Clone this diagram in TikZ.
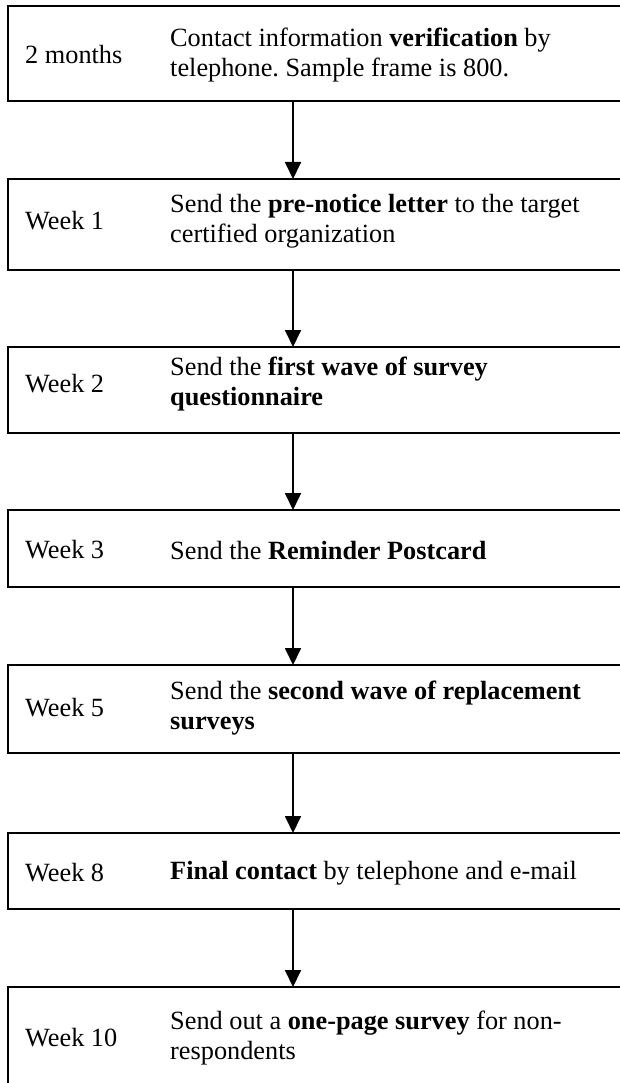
\documentclass[tikz,border=0pt]{standalone}
\usepackage{fontspec}
\setmainfont{Liberation Serif}
\usetikzlibrary{arrows.meta}
\frenchspacing

\begin{document}
\begin{tikzpicture}[x=1pt,y=-1pt,
  stepbox/.style={draw=black,line width=1.8pt,rectangle,anchor=north west,
    minimum width=640pt,inner sep=0pt,outer sep=0pt},
  when/.style={anchor=west,inner sep=0pt,font=\fontsize{26.3}{30}\selectfont},
  what/.style={anchor=west,inner sep=0pt,align=left,font=\fontsize{26.3}{30}\selectfont},
  arr/.style={line width=1.8pt,-{Triangle[length=17pt,width=16pt]}}]
\useasboundingbox (0,0) rectangle (620,1083);

% shared x of the connectors
\coordinate (ax) at (293,0);

% boxes: top-left corner and height
\node[stepbox,minimum height=95pt] (b1) at (8,6) {};
\node[stepbox,minimum height=91pt] (b2) at (8,179) {};
\node[stepbox,minimum height=86pt] (b3) at (8,347) {};
\node[stepbox,minimum height=77pt] (b4) at (8,510) {};
\node[stepbox,minimum height=88pt] (b5) at (8,665) {};
\node[stepbox,minimum height=76pt] (b6) at (8,833) {};
\node[stepbox,minimum height=120pt] (b7) at (8,987) {};

% timing labels
\node[when] (t1) at (25,55)   {2 months};
\node[when] (t2) at (25,221)  {Week 1};
\node[when] (t3) at (25,384)  {Week 2};
\node[when] (t4) at (25,550)  {Week 3};
\node[when] (t5) at (25,708)  {Week 5};
\node[when] (t6) at (25,873)  {Week 8};
\node[when] (t7) at (25,1038) {Week 10};

% step descriptions
\node[what] (d1) at (170,55)   {Contact information \textbf{verification} by\\telephone. Sample frame is 800.};
\node[what] (d2) at (170,221)  {Send the \textbf{pre-notice letter} to the target\\certified organization};
\node[what] (d3) at (170,384)  {Send the \textbf{first wave of survey}\\\textbf{questionnaire}};
\node[what] (d4) at (170,550)  {Send the \textbf{Reminder Postcard}};
\node[what] (d5) at (170,708)  {Send the \textbf{second wave of replacement}\\\textbf{surveys}};
\node[what] (d6) at (170,873)  {\textbf{Final contact} by telephone and e-mail};
\node[what] (d7) at (170,1038) {Send out a \textbf{one-page survey} for non-\\respondents};

% connectors
\draw[arr] (b1.south -| ax) -- (b2.north -| ax);
\draw[arr] (b2.south -| ax) -- (b3.north -| ax);
\draw[arr] (b3.south -| ax) -- (b4.north -| ax);
\draw[arr] (b4.south -| ax) -- (b5.north -| ax);
\draw[arr] (b5.south -| ax) -- (b6.north -| ax);
\draw[arr] (b6.south -| ax) -- (b7.north -| ax);
\end{tikzpicture}
\end{document}
